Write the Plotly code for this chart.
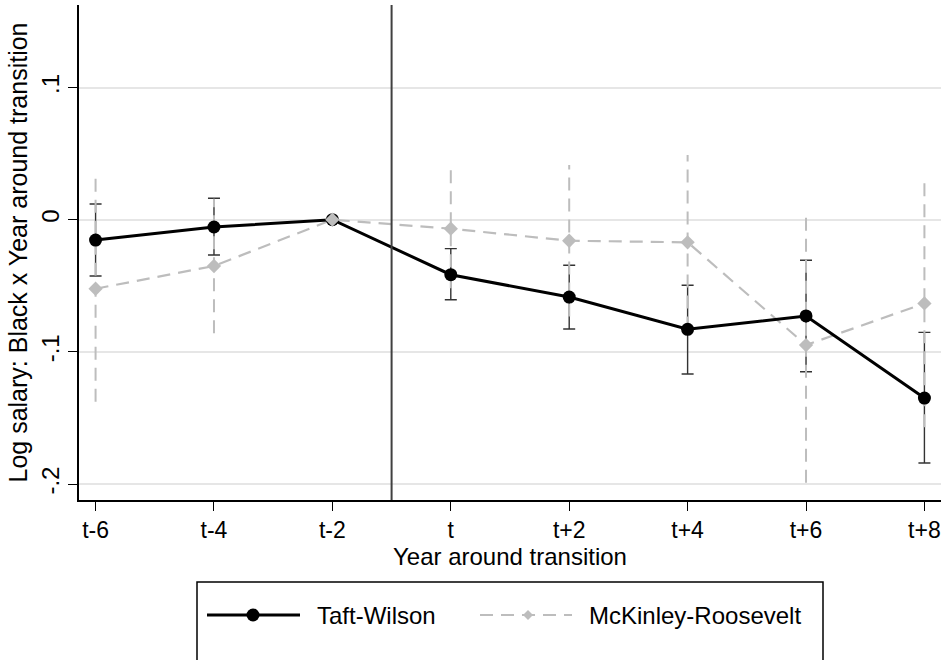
import plotly.graph_objects as go

# Event time relative to the administration transition (t = first year)
periods = [-6, -4, -2, 0, 2, 4, 6, 8]
period_labels = ["t-6", "t-4", "t-2", "t", "t+2", "t+4", "t+6", "t+8"]
ref_period = -2  # omitted category, normalised to zero

# Taft-Wilson transition: coefficients and 95% CI
taft_coef = [-0.0154, -0.0055, 0.0, -0.0416, -0.0585, -0.0829, -0.0728, -0.1349]
taft_lo = [-0.0426, -0.0267, None, -0.0605, -0.0827, -0.1167, -0.1150, -0.1840]
taft_hi = [0.0119, 0.0162, None, -0.0219, -0.0345, -0.0496, -0.0307, -0.0852]

# McKinley-Roosevelt transition: coefficients and 95% CI
mck_coef = [-0.0522, -0.0350, 0.0, -0.0068, -0.0159, -0.0171, -0.0948, -0.0633]
mck_lo = [-0.1377, -0.0859, None, -0.0519, -0.0732, -0.0831, -0.1990, -0.1570]
mck_hi = [0.0325, 0.0159, None, 0.0383, 0.0414, 0.0489, 0.0068, 0.0300]

y_ticks = [-0.2, -0.1, 0.0, 0.1]
y_tick_labels = ["-.2", "-.1", "0", ".1"]

FONT = "Liberation Sans, Arial, Helvetica, sans-serif"
BLACK = "#000000"
GRAY = "#bdbdbd"
CI_DARK = "#333333"

# plot-area geometry in pixels
FIG_W, FIG_H = 946, 660
M_L, M_R, M_T, M_B = 79, 5, 5, 160
PLOT_W = FIG_W - M_L - M_R
PLOT_H = FIG_H - M_T - M_B


def px_x(p):
    return (p - M_L) / PLOT_W


def px_y(p):
    return (M_T + PLOT_H - p) / PLOT_H


fig = go.Figure()

# Taft-Wilson confidence intervals (capped spikes)
ci_idx = [i for i, p in enumerate(periods) if p != ref_period]
fig.add_trace(go.Scatter(
    x=[periods[i] for i in ci_idx],
    y=[taft_coef[i] for i in ci_idx],
    mode="markers",
    marker=dict(size=1, color="rgba(0,0,0,0)"),
    error_y=dict(
        type="data", symmetric=False,
        array=[taft_hi[i] - taft_coef[i] for i in ci_idx],
        arrayminus=[taft_coef[i] - taft_lo[i] for i in ci_idx],
        color=CI_DARK, thickness=1.4, width=6,
    ),
    showlegend=False, hoverinfo="skip",
))

# McKinley-Roosevelt confidence intervals (dashed spikes, no caps)
sx, sy = [], []
for i in ci_idx:
    sx += [periods[i], periods[i], None]
    sy += [mck_lo[i], mck_hi[i], None]
fig.add_trace(go.Scatter(
    x=sx, y=sy, mode="lines",
    line=dict(color=GRAY, width=2, dash="13px,8px"),
    showlegend=False, hoverinfo="skip",
))

# McKinley-Roosevelt connecting line
fig.add_trace(go.Scatter(
    x=periods, y=mck_coef, mode="lines",
    line=dict(color=GRAY, width=2.2, dash="13px,8px"),
    name="McKinley-Roosevelt", showlegend=False,
))

# Taft-Wilson connected line with markers
fig.add_trace(go.Scatter(
    x=periods, y=taft_coef, mode="lines+markers",
    line=dict(color=BLACK, width=3),
    marker=dict(symbol="circle", size=13, color=BLACK),
    name="Taft-Wilson", showlegend=False,
))

# McKinley-Roosevelt markers on top
fig.add_trace(go.Scatter(
    x=periods, y=mck_coef, mode="markers",
    marker=dict(symbol="diamond", size=11, color=GRAY),
    showlegend=False,
))

shapes = [
    # transition marker between t-2 and t
    dict(type="line", xref="x", yref="paper", x0=-1, x1=-1, y0=0, y1=1,
         line=dict(color="#404040", width=2)),
    # legend frame (runs past the bottom edge)
    dict(type="rect", xref="paper", yref="paper",
         x0=px_x(197), x1=px_x(823), y0=px_y(720), y1=px_y(582),
         line=dict(color=BLACK, width=1.5), fillcolor="rgba(0,0,0,0)"),
    # legend key: Taft-Wilson
    dict(type="line", xref="paper", yref="paper",
         x0=px_x(207), x1=px_x(300), y0=px_y(615), y1=px_y(615),
         line=dict(color=BLACK, width=3)),
    dict(type="circle", xref="paper", yref="paper",
         x0=px_x(246.5), x1=px_x(259.5), y0=px_y(621.5), y1=px_y(608.5),
         line=dict(color=BLACK, width=0), fillcolor=BLACK),
    # legend key: McKinley-Roosevelt
    dict(type="line", xref="paper", yref="paper",
         x0=px_x(480), x1=px_x(572), y0=px_y(615), y1=px_y(615),
         line=dict(color=GRAY, width=2, dash="13px,8px")),
    dict(type="path", xref="paper", yref="paper",
         path=(f"M {px_x(523)},{px_y(615)} L {px_x(528)},{px_y(610)} "
               f"L {px_x(533)},{px_y(615)} L {px_x(528)},{px_y(620)} Z"),
         line=dict(color=GRAY, width=0), fillcolor=GRAY),
]

annotations = [
    dict(xref="paper", yref="paper", x=px_x(315), y=px_y(615),
         xanchor="left", yanchor="middle", text="Taft-Wilson",
         showarrow=False, font=dict(family=FONT, size=24, color=BLACK)),
    dict(xref="paper", yref="paper", x=px_x(587), y=px_y(615),
         xanchor="left", yanchor="middle", text="McKinley-Roosevelt",
         showarrow=False, font=dict(family=FONT, size=24, color=BLACK)),
]

fig.update_layout(
    width=FIG_W, height=FIG_H,
    margin=dict(l=M_L, r=M_R, t=M_T, b=M_B),
    paper_bgcolor="white", plot_bgcolor="white",
    font=dict(family=FONT, color=BLACK),
    showlegend=False,
    shapes=shapes,
    annotations=annotations,
    xaxis=dict(
        range=[-6.28, 8.28],
        tickmode="array", tickvals=periods, ticktext=period_labels,
        ticks="outside", ticklen=9, tickwidth=1.3, tickcolor=BLACK,
        showline=True, linecolor=BLACK, linewidth=1.5,
        showgrid=False, zeroline=False,
        tickfont=dict(family=FONT, size=23, color=BLACK),
        title=dict(text="Year around transition", standoff=0,
                   font=dict(family=FONT, size=24, color=BLACK)),
    ),
    yaxis=dict(
        range=[-0.212, 0.1624],
        tickmode="array", tickvals=y_ticks, ticktext=y_tick_labels,
        tickangle=-90,
        ticks="outside", ticklen=9, tickwidth=1.3, tickcolor=BLACK,
        showline=True, linecolor=BLACK, linewidth=1.5,
        showgrid=True, gridcolor="#e6e6e6", gridwidth=1.5,
        zeroline=False,
        tickfont=dict(family=FONT, size=24, color=BLACK),
        title=dict(text="Log salary: Black x Year around transition", standoff=2,
                   font=dict(family=FONT, size=25, color=BLACK)),
    ),
)

fig.write_html("out.html")
